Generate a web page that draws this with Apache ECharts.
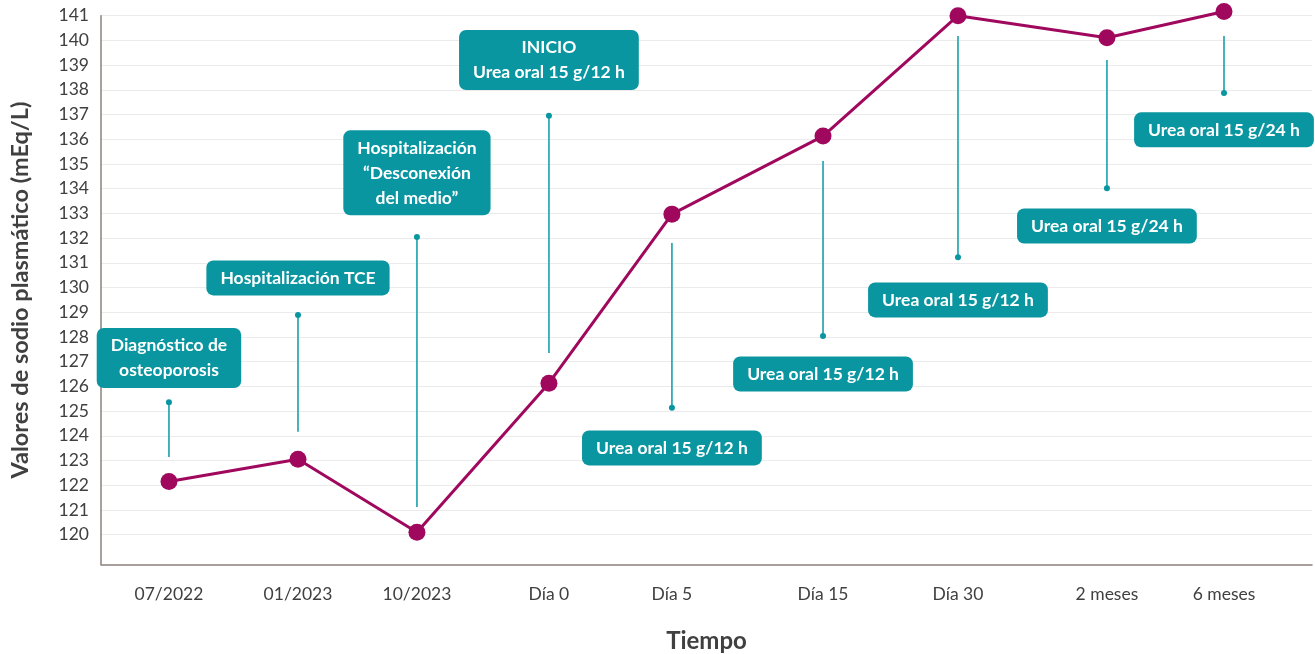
<!DOCTYPE html>
<html>
<head>
<meta charset="utf-8">
<script src="https://cdn.jsdelivr.net/npm/echarts@6/dist/echarts.min.js"></script>
<style>html,body{margin:0;padding:0;background:#fff;}#chart{width:1315px;height:654px;}</style>
</head>
<body>
<div id="chart"></div>
<script>
// ---- data ----
const categories = ['07/2022', '01/2023', '10/2023', 'Día 0', 'Día 5', 'Día 15', 'Día 30', '2 meses', '6 meses'];
// placement of each time point along the (irregular) time axis, in axis units 0..9
const xPos = [0.505, 1.464, 2.348, 3.329, 4.243, 5.366, 6.369, 7.476, 8.346];
const sodium = [122.15, 123.05, 120.1, 126.13, 132.97, 136.13, 141.0, 140.11, 141.17];
const yTicks = [120, 121, 122, 123, 124, 125, 126, 127, 128, 129, 130, 131, 132, 133, 134, 135, 136, 137, 138, 139, 140, 141];
const notes = [
  'Diagnóstico de\nosteoporosis',
  'Hospitalización TCE',
  'Hospitalización\n“Desconexión\ndel medio”',
  'INICIO\nUrea oral 15 g/12 h',
  'Urea oral 15 g/12 h',
  'Urea oral 15 g/12 h',
  'Urea oral 15 g/12 h',
  'Urea oral 15 g/24 h',
  'Urea oral 15 g/24 h'
];
const noteBoxY = [127.15, 130.39, 134.64, 139.21, 123.51, 126.50, 129.50, 132.49, 136.38];
const noteDotY = [125.36, 128.89, 132.04, 136.95, 125.13, 128.04, 131.23, 134.02, 137.87];
const noteEndY = [123.14, 124.16, 121.12, 127.35, 131.80, 135.12, 140.18, 139.21, 140.18];

const FONT = 'Lato, "Open Sans", sans-serif';
const TEAL = '#0a96a0';
const TEAL_LINE = '#34aab4';
const MAGENTA = '#a0085e';

const chart = echarts.init(document.getElementById('chart'), null, {renderer: 'canvas'});

const noteData = notes.map((t, i) => [xPos[i], noteBoxY[i], noteDotY[i], noteEndY[i], i]);

const option = {
  backgroundColor: '#ffffff',
  animation: false,
  grid: {left: 101, right: 3, top: 15.7, bottom: 89.7, containLabel: false, outerBoundsMode: 'none'},
  xAxis: {
    type: 'value',
    min: 0,
    max: 9,
    name: 'Tiempo',
    nameLocation: 'middle',
    nameGap: 65,
    nameTextStyle: {fontFamily: FONT, fontSize: 24, fontWeight: 'bold', color: '#404040'},
    axisLine: {show: true, onZero: false, lineStyle: {color: '#8a807c', width: 1.5}},
    axisTick: {show: false},
    splitLine: {show: false},
    axisLabel: {
      customValues: xPos,
      margin: 21,
      fontFamily: FONT,
      fontSize: 17.5,
      color: '#404040',
      formatter: function (v) {
        let best = 0, d = 1e9;
        xPos.forEach((p, i) => { if (Math.abs(p - v) < d) { d = Math.abs(p - v); best = i; } });
        return categories[best];
      }
    }
  },
  yAxis: {
    type: 'value',
    min: 118.8,
    max: 141,
    name: 'Valores de sodio plasmático (mEq/L)',
    nameLocation: 'middle',
    nameGap: 69,
    nameTextStyle: {fontFamily: FONT, fontSize: 23.5, fontWeight: 'bold', color: '#404040'},
    axisLine: {show: true, lineStyle: {color: '#8a807c', width: 1.5}},
    axisTick: {show: false, customValues: yTicks},
    axisLabel: {customValues: yTicks, margin: 12, fontFamily: FONT, fontSize: 17.5, color: '#404040'},
    splitLine: {show: true, lineStyle: {color: '#ebebeb', width: 1.2}}
  },
  series: [
    {
      type: 'custom',
      clip: false,
      z: 3,
      data: noteData,
      renderItem: function (params, api) {
        const x = api.value(0);
        const box = api.coord([x, api.value(1)]);
        const dot = api.coord([x, api.value(2)]);
        const end = api.coord([x, api.value(3)]);
        const idx = api.value(4);
        return {
          type: 'group',
          children: [
            {type: 'line', shape: {x1: dot[0], y1: dot[1], x2: end[0], y2: end[1]},
             style: {stroke: TEAL_LINE, lineWidth: 1.8}},
            {type: 'circle', shape: {cx: dot[0], cy: dot[1], r: 3}, style: {fill: TEAL}},
            {type: 'text', x: box[0], y: box[1],
             style: {
               text: notes[idx], fill: '#ffffff', fontFamily: FONT, fontSize: 17.5, fontWeight: 'bold',
               align: 'center', verticalAlign: 'middle', lineHeight: 25,
               backgroundColor: TEAL, borderRadius: 7, padding: [5, 14]
             }}
          ]
        };
      }
    },
    {
      type: 'line',
      clip: false,
      z: 5,
      data: xPos.map((x, i) => [x, sodium[i]]),
      symbol: 'circle',
      symbolSize: 17,
      lineStyle: {color: MAGENTA, width: 3},
      itemStyle: {color: MAGENTA}
    }
  ]
};
chart.setOption(option);
</script>
</body>
</html>
